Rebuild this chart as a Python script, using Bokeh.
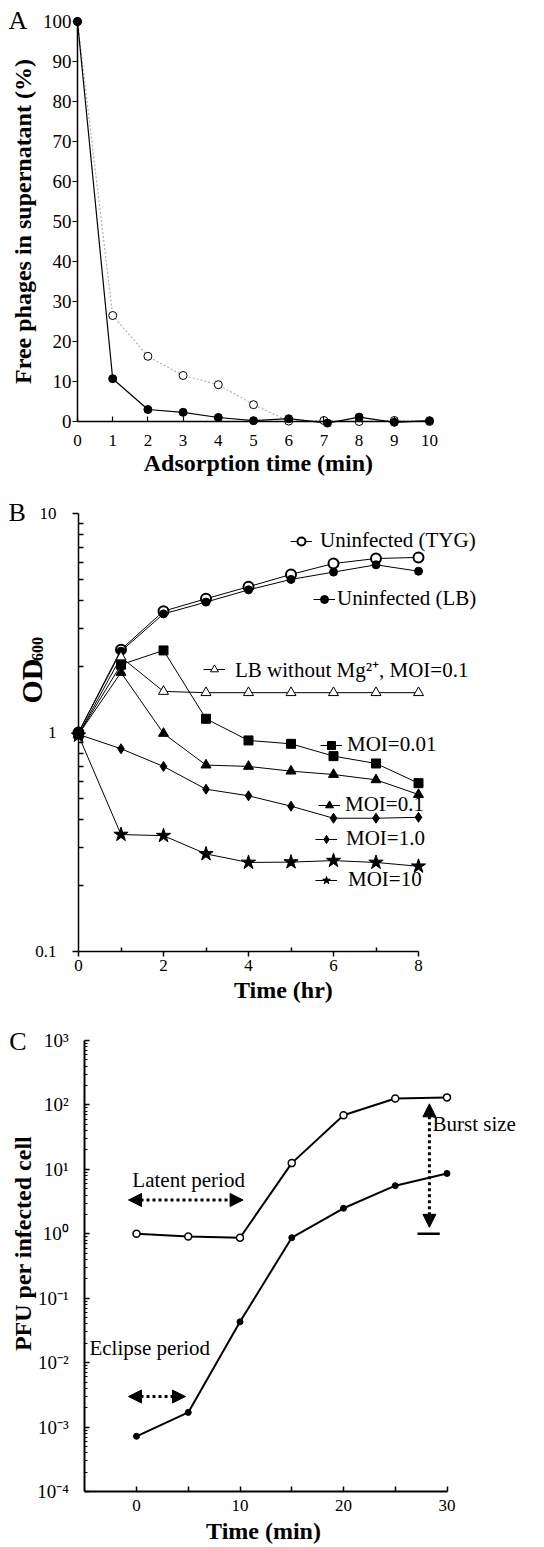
import math
from bokeh.plotting import figure
from bokeh.layouts import column
from bokeh.models import (Label, Legend, LegendItem, FixedTicker, CustomJSTickFormatter,
                          Range1d, Arrow, NormalHead)
from bokeh.embed import file_html
from bokeh.resources import INLINE

FONT = "Liberation Serif"
TICK_SIZE = "17px"
TITLE_SIZE = "24px"
NOTE_SIZE = "21px"
W = 540

# ---------------- Panel A data ----------------
a_time_open = [0, 1, 2, 3, 4, 5, 6, 7, 8, 9, 10]
a_free_open = [100, 26.5, 16.3, 11.5, 9.2, 4.2, 0.1, 0.25, 0.0, 0.25, 0.0]
a_time_filled = [0, 1, 2, 3, 4, 5, 6, 7.1, 8, 9, 10]
a_free_filled = [100, 10.7, 3.0, 2.3, 1.0, 0.2, 0.7, -0.4, 1.1, -0.2, 0.2]
a_xticks = [0, 1, 2, 3, 4, 5, 6, 7, 8, 9, 10]
a_yticks = [0, 10, 20, 30, 40, 50, 60, 70, 80, 90, 100]

# ---------------- Panel B data ----------------
b_time = [0, 1, 2, 3, 4, 5, 6, 7, 8]
b_tyg = [1.0, 2.39, 3.58, 4.08, 4.63, 5.27, 5.91, 6.23, 6.30]
b_lb = [1.0, 2.35, 3.48, 3.94, 4.48, 5.00, 5.40, 5.83, 5.45]
b_nomg = [0.98, 2.21, 1.54, 1.52, 1.52, 1.52, 1.52, 1.52, 1.52]
b_moi001 = [0.98, 2.04, 2.37, 1.155, 0.92, 0.888, 0.78, 0.722, 0.587]
b_moi01 = [0.98, 1.88, 0.99, 0.71, 0.70, 0.666, 0.643, 0.608, 0.521]
b_moi1 = [0.98, 0.843, 0.70, 0.551, 0.514, 0.461, 0.406, 0.406, 0.41]
b_moi10 = [0.97, 0.342, 0.338, 0.279, 0.255, 0.256, 0.26, 0.255, 0.245]
b_yticks = [0.1, 1, 10]
b_yminor = [0.2, 0.3, 0.4, 0.5, 0.6, 0.7, 0.8, 0.9, 2, 3, 4, 5, 6, 7, 8, 9]
b_xticks = [0, 2, 4, 6, 8]
b_xminor = [1, 3, 5, 7]

# ---------------- Panel C data ----------------
c_time = [0, 5, 10, 15, 20, 25, 30]
c_total = [1.0, 0.91, 0.87, 12.5, 69, 126, 131]
c_intra = [7.2e-4, 1.69e-3, 0.043, 0.87, 2.49, 5.58, 8.64]
c_xticks = [0, 10, 20, 30]
c_xminor = [5, 15, 25]
c_yticks = [1e-4, 1e-3, 1e-2, 1e-1, 1, 10, 100, 1000]
c_yminor = [k * 10.0 ** e for e in range(-4, 3) for k in range(2, 10)]


# ---- layout helpers: each figure's frame fills the whole figure ----
def lin_range(px0, v0, px1, v1, lo_px, hi_px):
    """range values at pixel lo_px / hi_px given two anchors (pixel, value)."""
    s = (v1 - v0) / (px1 - px0)
    return v0 + (lo_px - px0) * s, v0 + (hi_px - px0) * s


def base_fig(h, xr, yr, log=False):
    p = figure(width=W, height=h, output_backend="svg", toolbar_location=None,
               x_range=Range1d(*xr), y_range=Range1d(*yr),
               y_axis_type="log" if log else "linear",
               min_border_left=0, min_border_right=0, min_border_top=0, min_border_bottom=0)
    p.title.visible = False
    p.xgrid.visible = False
    p.ygrid.visible = False
    p.outline_line_color = None
    p.background_fill_color = "white"
    p.border_fill_color = "white"
    for ax in (p.xaxis[0], p.yaxis[0]):
        ax.axis_line_color = "black"
        ax.major_tick_line_color = "black"
        ax.minor_tick_line_color = "black"
        ax.major_label_text_font = FONT
        ax.major_label_text_font_size = TICK_SIZE
        ax.major_label_text_color = "black"
    return p


def text(p, s, x, y, size=NOTE_SIZE, bold=False, align="left", angle=0.0):
    p.add_layout(Label(x=x, y=y, text=s, text_font=FONT, text_font_size=size,
                       text_font_style="bold" if bold else "normal",
                       text_baseline="middle", text_align=align, text_color="black",
                       angle=angle))


# ================= Panel A  (page y 0..490) =================
hA = 490
xrA = lin_range(77, 0, 429, 10, 0, W)
yr_hi, yr_lo = lin_range(421, 0, 21, 100, 0, hA)
pA = base_fig(hA, xrA, (yr_lo, yr_hi))
pA.xaxis.fixed_location = 0
pA.yaxis.fixed_location = 0
pA.xaxis.bounds = (0, 10)
pA.yaxis.bounds = (0, 100)
pA.xaxis.ticker = FixedTicker(ticks=a_xticks)
pA.yaxis.ticker = FixedTicker(ticks=a_yticks)
pA.xaxis.minor_tick_line_color = None
pA.yaxis.minor_tick_line_color = None
pA.xaxis.major_tick_in = 5
pA.xaxis.major_tick_out = 0
pA.yaxis.major_tick_in = 0
pA.yaxis.major_tick_out = 5
pA.xaxis.axis_line_width = 1.5
pA.yaxis.axis_line_width = 1.5
pA.xaxis.major_tick_line_width = 1.2
pA.yaxis.major_tick_line_width = 1.2
pA.xaxis.major_label_standoff = 13
pA.yaxis.major_label_standoff = 1
pA.yaxis.major_label_text_font_size = "19px"

pA.line(a_time_open, a_free_open, line_color="#b0b0b0", line_width=1.2, line_dash="2 2")
pA.line(a_time_filled, a_free_filled, line_color="black", line_width=1.2)
pA.scatter(a_time_open, a_free_open, marker="circle", size=8, fill_color="white",
           line_color="black", line_width=1)
pA.scatter(a_time_filled, a_free_filled, marker="circle", size=8, fill_color="black",
           line_color="black")
text(pA, "A", -1.96, 100.25, size="26px")
text(pA, "Adsorption time (min)", 5.14, -10.25, size=TITLE_SIZE, bold=True, align="center")
text(pA, "Free phages in supernatant (%)", -1.55, 50, size=TITLE_SIZE, bold=True,
     align="center", angle=math.pi / 2)

# ================= Panel B  (page y 490..1020) =================
hB = 530
xrB = lin_range(78, 0, 418, 8, 0, W)
lg_hi, lg_lo = lin_range(732, 0, 513, 1, 490, 490 + hB)
pB = base_fig(hB, xrB, (10 ** lg_lo, 10 ** lg_hi), log=True)
pB.xaxis.fixed_location = 0.1
pB.yaxis.fixed_location = 0
pB.xaxis.bounds = (0, 8)
pB.yaxis.bounds = (0.1, 10)
pB.xaxis.ticker = FixedTicker(ticks=b_xticks, minor_ticks=b_xminor)
pB.yaxis.ticker = FixedTicker(ticks=b_yticks, minor_ticks=b_yminor)
pB.yaxis.formatter = CustomJSTickFormatter(code="return String(Math.round(tick*10)/10);")
pB.xaxis.major_tick_in = 0
pB.xaxis.major_tick_out = 5
pB.xaxis.minor_tick_in = 4
pB.xaxis.minor_tick_out = 0
pB.yaxis.major_tick_in = 0
pB.yaxis.major_tick_out = 6
pB.yaxis.minor_tick_in = 5
pB.yaxis.minor_tick_out = 0
for ax in (pB.xaxis[0], pB.yaxis[0]):
    ax.axis_line_width = 1.5
    ax.major_tick_line_width = 1.5
    ax.minor_tick_line_width = 1.5
pB.xaxis.major_label_standoff = 3
pB.yaxis.major_label_standoff = 16

series_B = [
    ("Uninfected (TYG)", b_tyg, dict(marker="circle", size=10, fill_color="white", line_width=2), (290, 467), 8),
    ("Uninfected (LB)", b_lb, dict(marker="circle", size=8, fill_color="black", line_width=1), (313, 409), 2),
    ("LB without Mg\u00b2\u207a, MOI=0.1", b_nomg, dict(marker="triangle", size=10, fill_color="white", line_width=1), (203, 337), 10),
    ("MOI=0.01", b_moi001, dict(marker="square", size=9, fill_color="black", line_width=1), (320, 263), 5),
    ("MOI=0.1", b_moi01, dict(marker="triangle", size=10, fill_color="black", line_width=1), (318, 203), 5),
    ("MOI=1.0", b_moi1, dict(marker="diamond", size=10, fill_color="black", line_width=1), (315, 169), 9),
    ("MOI=10", b_moi10, dict(marker="star", size=15, fill_color="black", line_width=1), (315, 128), 11),
]
for label, vals, mk, loc, standoff in series_B:
    rl = pB.line(b_time, vals, line_color="black", line_width=1)
    rs = pB.scatter(b_time, vals, line_color="black", **mk)
    leg = Legend(items=[LegendItem(label=label, renderers=[rl, rs])], location=loc,
                 label_text_font=FONT, label_text_font_size=NOTE_SIZE, label_text_color="black",
                 glyph_width=22, glyph_height=20, label_height=20, label_standoff=standoff,
                 padding=0, margin=0, spacing=0, border_line_color=None,
                 background_fill_alpha=0)
    pB.add_layout(leg)
text(pB, "B", -1.65, 10.1, size="26px")
text(pB, "Time (hr)", 4.82, 0.0664, size=TITLE_SIZE, bold=True, align="center")
text(pB, "OD", -1.106, 1.356, size="30px", bold=True, angle=math.pi / 2)
text(pB, "600", -0.96, 2.12, size="16px", bold=True, angle=math.pi / 2)

# ================= Panel C  (page y 1020..1545) =================
hC = 525
xrC = lin_range(136, 0, 446.5, 30, 0, W)
lc_hi, lc_lo = lin_range(1233.3, 0, 1040, 3, 1020, 1020 + hC)
pC = base_fig(hC, xrC, (10 ** lc_lo, 10 ** lc_hi), log=True)
pC.xaxis.fixed_location = 1e-4
pC.yaxis.fixed_location = -5
pC.xaxis.bounds = (-5, 30)
pC.yaxis.bounds = (1e-4, 1e3)
pC.xaxis.ticker = FixedTicker(ticks=c_xticks, minor_ticks=c_xminor)
pC.yaxis.ticker = FixedTicker(ticks=c_yticks, minor_ticks=c_yminor)
pC.yaxis.formatter = CustomJSTickFormatter(code=r"""
const e = Math.round(Math.log10(tick));
const m = {'-':'\u207b','0':'\u2070','1':'\u00b9','2':'\u00b2','3':'\u00b3','4':'\u2074'};
return '10' + String(e).split('').map(c => m[c]).join('');
""")
pC.xaxis.major_tick_in = 5
pC.xaxis.major_tick_out = 0
pC.xaxis.minor_tick_in = 5
pC.xaxis.minor_tick_out = 0
pC.yaxis.major_tick_in = 5
pC.yaxis.major_tick_out = 0
pC.yaxis.minor_tick_in = 3
pC.yaxis.minor_tick_out = 0
pC.xaxis.axis_line_width = 2
pC.yaxis.axis_line_width = 2
pC.xaxis.major_tick_line_width = 1.5
pC.xaxis.minor_tick_line_width = 1.5
pC.yaxis.major_tick_line_width = 1.5
pC.yaxis.minor_tick_line_width = 1.2
pC.xaxis.major_label_standoff = 8
pC.yaxis.major_label_standoff = 16
pC.yaxis.major_label_text_font_size = "19px"

pC.line(c_time, c_total, line_color="black", line_width=2)
pC.line(c_time, c_intra, line_color="black", line_width=2)
pC.scatter(c_time, c_total, marker="circle", size=7, fill_color="white", line_color="black", line_width=1.5)
pC.scatter(c_time, c_intra, marker="circle", size=6, fill_color="black", line_color="black")


def dotted_arrow(p, x0, y0, x1, y1):
    head = lambda: NormalHead(size=13, fill_color="black", line_color="black", line_width=1)
    p.add_layout(Arrow(start=head(), end=head(), x_start=x0, y_start=y0,
                       x_end=x1, y_end=y1, line_color="black", line_width=3, line_dash="3 3"))


dotted_arrow(pC, -0.77, 3.35, 10.3, 3.35)
dotted_arrow(pC, -0.77, 2.98e-3, 4.73, 2.98e-3)
dotted_arrow(pC, 28.3, 1.26, 28.3, 104)
pC.segment(x0=[27.15], y0=[1.0], x1=[29.3], y1=[1.0], line_color="black", line_width=2.5)

text(pC, "Latent period", -0.4, 6.9)
text(pC, "Burst size", 28.6, 50.7)
text(pC, "Eclipse period", -4.55, 0.0169)
text(pC, "C", -12.3, 972, size="26px")
text(pC, "Time (min)", 12.27, 2.4e-5, size=TITLE_SIZE, bold=True, align="center")
text(pC, "PFU per infected cell", -11.0, 0.708, size=TITLE_SIZE, bold=True,
     align="center", angle=math.pi / 2)

layout = column(pA, pB, pC, spacing=0)
open("out.html", "w").write(file_html(layout, INLINE))
